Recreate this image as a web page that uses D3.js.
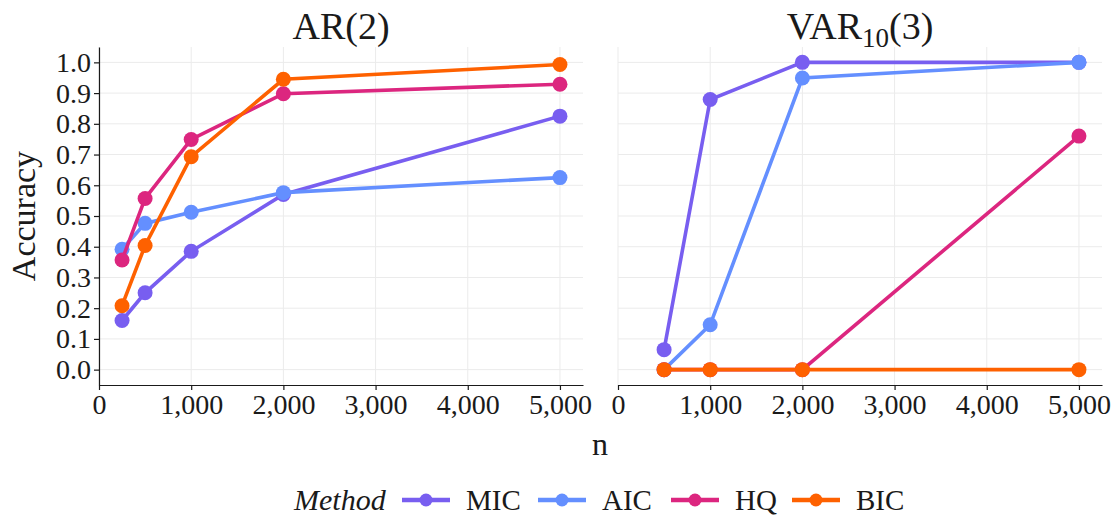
<!DOCTYPE html>
<html>
<head>
<meta charset="utf-8">
<script src="https://cdn.jsdelivr.net/npm/d3@7"></script>
<style>
  body { margin: 0; background: #fff; }
  svg text { font-family: "Liberation Serif", "DejaVu Serif", serif; fill: #1a1a1a; }
</style>
</head>
<body>
<svg id="chart" width="1116" height="517"></svg>
<script>
(function () {
    'use strict';

    // data
    const methods = ["MIC", "AIC", "HQ", "BIC"];
    const methodColors = ["#785EF0", "#648FFF", "#DC267F", "#FE6100"];

    const arN = [250, 500, 1000, 2000, 5000];
    const arMIC = [0.160, 0.250, 0.385, 0.570, 0.825];
    const arAIC = [0.392, 0.476, 0.512, 0.576, 0.625];
    const arHQ  = [0.357, 0.557, 0.749, 0.898, 0.929];
    const arBIC = [0.208, 0.404, 0.693, 0.945, 0.993];
    const arErr = [0.016, 0.016, 0.016, 0.016, 0.016];

    const varN = [500, 1000, 2000, 5000];
    const varMIC = [0.065, 0.879, 1.000, 1.000];
    const varAIC = [0.000, 0.146, 0.949, 1.000];
    const varHQ  = [0.000, 0.000, 0.000, 0.760];
    const varBIC = [0.000, 0.000, 0.000, 0.000];
    const varErr = [0.010, 0.010, 0.008, 0.014];

    const yTicks = d3.range(0, 11).map(i => i / 10);
    const xTicks = [0, 1000, 2000, 3000, 4000, 5000];

    const panels = [
        { title: "AR(2)", sub: null, n: arN, series: [arMIC, arAIC, arHQ, arBIC], err: arErr, x0: 99, x1: 583 },
        { title: "VAR", sub: "10", tail: "(3)", n: varN, series: [varMIC, varAIC, varHQ, varBIC], err: varErr, x0: 618, x1: 1102 }
    ];

    const svg = d3.select("#chart");
    const yTop = 47, yBottom = 385;
    const y = d3.scaleLinear().domain([-0.05, 1.05]).range([yBottom, yTop]);
    const fmt = d3.format(",d");

    panels.forEach((p, pi) => {
        const x = d3.scaleLinear().domain([0, 5250]).range([p.x0, p.x1]);
        const g = svg.append("g");

        // grid
        g.append("g").selectAll("line.h").data(yTicks).join("line")
            .attr("x1", p.x0).attr("x2", p.x1)
            .attr("y1", d => y(d)).attr("y2", d => y(d))
            .attr("stroke", "#ebebeb").attr("stroke-width", 1);
        g.append("g").selectAll("line.v").data(xTicks).join("line")
            .attr("x1", d => x(d)).attr("x2", d => x(d))
            .attr("y1", yTop).attr("y2", yBottom)
            .attr("stroke", "#ebebeb").attr("stroke-width", 1);

        // x axis
        const xAxis = g.append("g")
            .attr("transform", `translate(0,${yBottom})`)
            .call(d3.axisBottom(x).tickValues(xTicks).tickFormat(fmt).tickSize(5).tickSizeOuter(0));
        xAxis.attr("font-family", null);
        xAxis.select(".domain").attr("stroke", "#1a1a1a").attr("stroke-width", 1.2);
        xAxis.selectAll(".tick line").attr("stroke", "#1a1a1a").attr("stroke-width", 1.2);
        xAxis.selectAll("text").attr("font-size", 28).attr("y", 29).attr("dy", null);

        // y axis only on the first panel
        if (pi === 0) {
            const yAxis = g.append("g")
                .attr("transform", `translate(${p.x0},0)`)
                .call(d3.axisLeft(y).tickValues(yTicks).tickFormat(d3.format(".1f")).tickSize(5).tickSizeOuter(0));
            yAxis.attr("font-family", null);
            yAxis.select(".domain").attr("stroke", "#1a1a1a").attr("stroke-width", 1.2);
            yAxis.selectAll(".tick line").attr("stroke", "#1a1a1a").attr("stroke-width", 1.2);
            yAxis.selectAll("text").attr("font-size", 28).attr("x", -8);
        }

        // title
        const t = g.append("text")
            .attr("x", (p.x0 + p.x1) / 2).attr("y", 39)
            .attr("text-anchor", "middle").attr("font-size", 38);
        t.append("tspan").text(p.title);
        if (p.sub) {
            t.append("tspan").attr("font-size", 27).attr("dy", 8).text(p.sub);
            t.append("tspan").attr("dy", -8).text(p.tail);
        }

        // series
        const line = d3.line().x(d => x(d[0])).y(d => y(d[1]));
        p.series.forEach((vals, si) => {
            const pts = p.n.map((n, i) => [n, vals[i], p.err[i]]);
            const col = methodColors[si];
            const sg = g.append("g");
            sg.append("path").datum(pts)
                .attr("d", line).attr("fill", "none")
                .attr("stroke", col).attr("stroke-width", 3.6);
            sg.selectAll("line.err").data(pts).join("line")
                .attr("x1", d => x(d[0])).attr("x2", d => x(d[0]))
                .attr("y1", d => y(Math.max(0, d[1] - d[2])))
                .attr("y2", d => y(Math.min(1, d[1] + d[2])))
                .attr("stroke", col).attr("stroke-width", 2.5);
            sg.selectAll("circle").data(pts).join("circle")
                .attr("cx", d => x(d[0])).attr("cy", d => y(d[1]))
                .attr("r", 7.5).attr("fill", col);
        });
    });

    // axis titles
    svg.append("text").attr("x", 600).attr("y", 455)
        .attr("text-anchor", "middle").attr("font-size", 32).text("n");
    svg.append("text")
        .attr("transform", `translate(35,${(yTop + yBottom) / 2}) rotate(-90)`)
        .attr("text-anchor", "middle").attr("font-size", 34).text("Accuracy");

    // legend
    const lg = svg.append("g").attr("transform", "translate(0,500)");
    lg.append("text").attr("x", 294).attr("y", 10).attr("font-size", 30)
        .attr("font-style", "italic").text("Method");
    const keyX = [402, 538, 671, 792];
    methods.forEach((m, i) => {
        const k = lg.append("g").attr("transform", `translate(${keyX[i]},0)`);
        k.append("line").attr("x1", 0).attr("x2", 48).attr("y1", 0).attr("y2", 0)
            .attr("stroke", methodColors[i]).attr("stroke-width", 4.5);
        k.append("circle").attr("cx", 24).attr("cy", 0).attr("r", 6.5).attr("fill", methodColors[i]);
        k.append("text").attr("x", 64).attr("y", 10).attr("font-size", 29).text(m);
    });
}());
</script>
</body>
</html>
